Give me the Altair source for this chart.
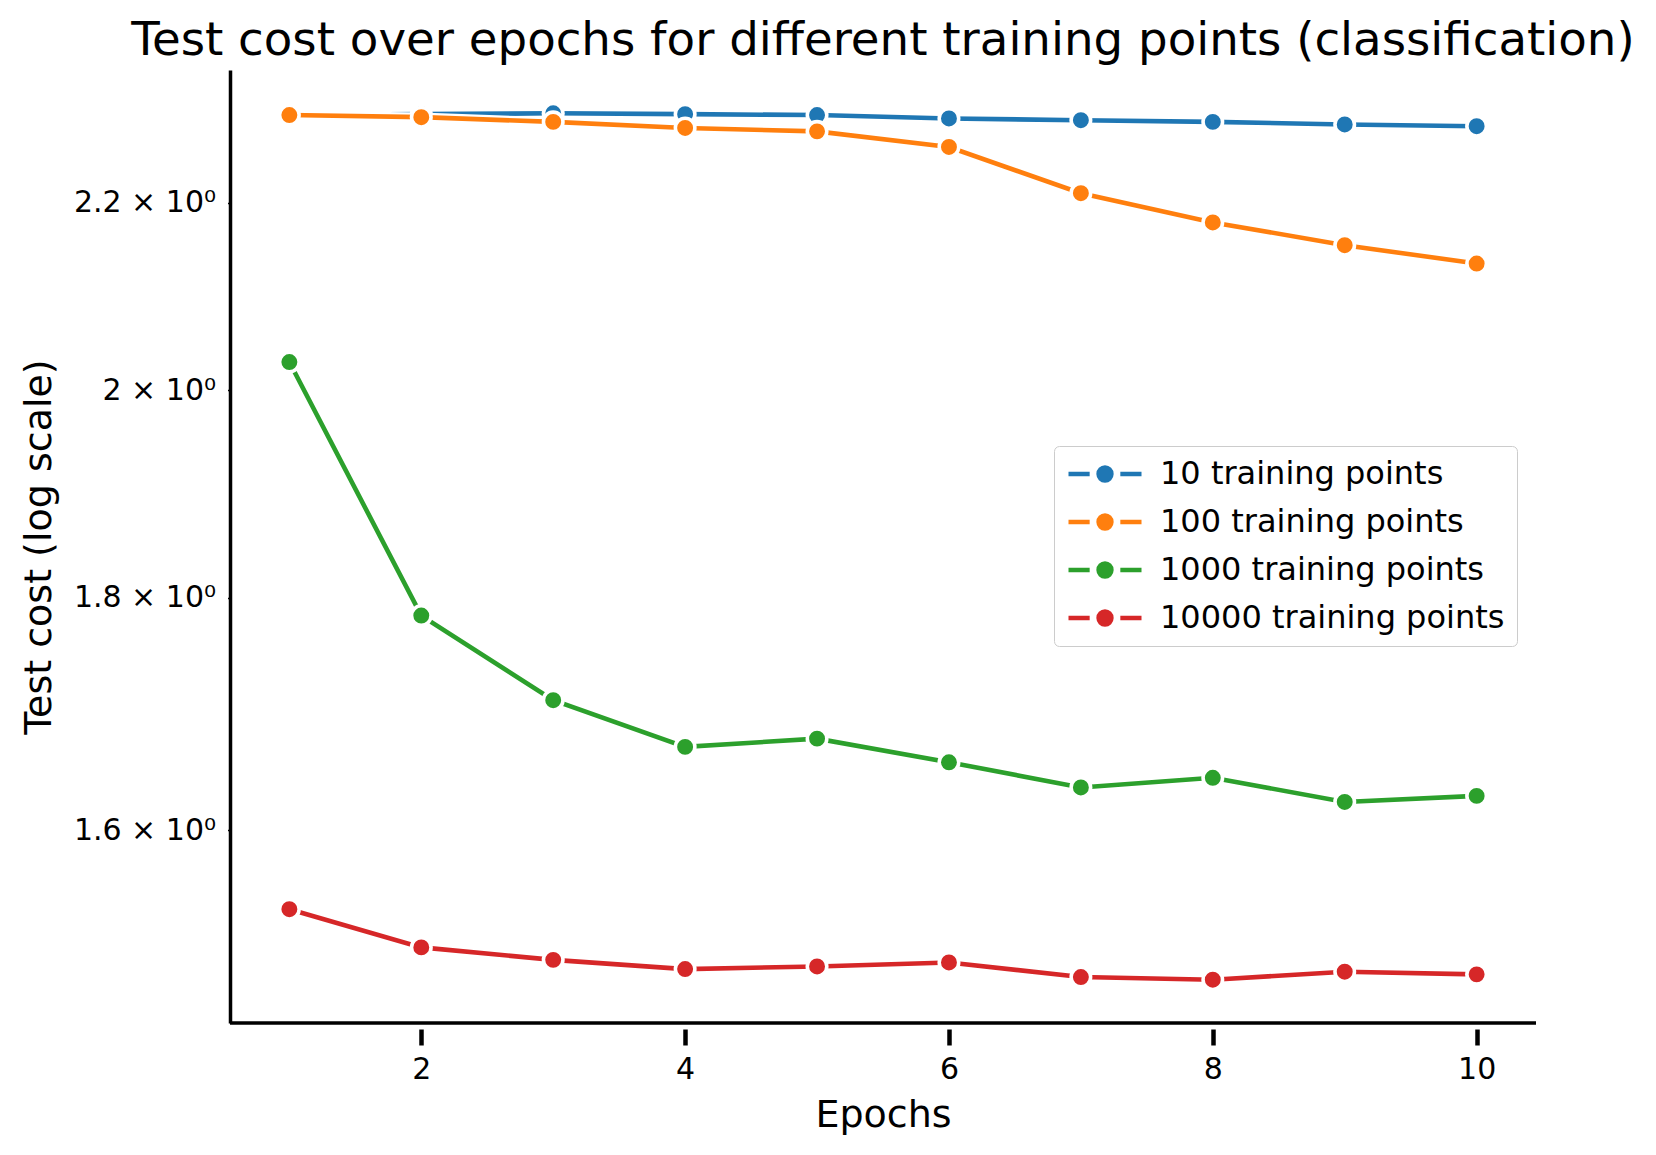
import math

import altair as alt
import pandas as pd

# ---- data -------------------------------------------------------------
epochs = [1, 2, 3, 4, 5, 6, 7, 8, 9, 10]
series_names = [
    "10 training points",
    "100 training points",
    "1000 training points",
    "10000 training points",
]
series_colors = ["#1f77b4", "#ff7f0e", "#2ca02c", "#d62728"]

cost_10 = [2.300, 2.301, 2.302, 2.301, 2.300, 2.296, 2.294, 2.292, 2.289, 2.287]
cost_100 = [2.300, 2.2975, 2.292, 2.285, 2.281, 2.263, 2.2105, 2.178, 2.153, 2.133]
cost_1000 = [2.029, 1.784, 1.709, 1.669, 1.676, 1.656, 1.635, 1.643, 1.623, 1.628]
cost_10000 = [1.537, 1.5075, 1.498, 1.491, 1.493, 1.496, 1.485, 1.483, 1.489, 1.487]

x_ticks = [2, 4, 6, 8, 10]
y_ticks = [1.6, 1.8, 2.0, 2.2]

title_text = "Test cost over epochs for different training points (classification)"

# ---- table ------------------------------------------------------------
all_costs = [cost_10, cost_100, cost_1000, cost_10000]
rows = []
for name, values in zip(series_names, all_costs):
    for e, c in zip(epochs, values):
        rows.append({"epoch": e, "cost": c, "series": name})
df = pd.DataFrame(rows)

# axis limits with 5% margins (log space for y)
x_lo, x_hi = min(epochs), max(epochs)
x_pad = 0.05 * (x_hi - x_lo)
x_domain = [x_lo - x_pad, x_hi + x_pad]

flat = [v for vals in all_costs for v in vals]
l_lo, l_hi = math.log(min(flat)), math.log(max(flat))
l_pad = 0.05 * (l_hi - l_lo)
y_domain = [math.exp(l_lo - l_pad), math.exp(l_hi + l_pad)]

# ---- layout -----------------------------------------------------------
W, H = 1306, 953
FONT = "DejaVu Sans"

x_axis = alt.Axis(
    values=x_ticks, format="d", domain=False, offset=6,
    tickSize=16, tickWidth=4.5, tickColor="black",
    labelFontSize=30, labelFont=FONT, labelColor="black", labelPadding=9,
    labelFlush=False, labelOverlap=False, grid=False,
    title="Epochs", titleFontSize=38, titleFont=FONT, titleFontWeight="normal",
    titleColor="black", titleBaseline="alphabetic", titleY=97,
)
y_axis = alt.Axis(
    values=y_ticks,
    labelExpr="replace(format(datum.value, '.1f'), '.0', '') + ' × 10⁰'",
    domainColor="black", domainWidth=3.5,
    tickSize=2.5, tickWidth=1.5, tickColor="black",
    labelFontSize=30, labelFont=FONT, labelColor="black", labelPadding=12,
    labelOverlap=False, grid=False,
    title="Test cost (log scale)", titleFontSize=38, titleFont=FONT,
    titleFontWeight="normal", titleColor="black", titleAngle=270,
    titleX=-180, titleY=H / 2, titleBaseline="alphabetic", titleAlign="center",
)

x_enc = alt.X("epoch:Q", scale=alt.Scale(domain=x_domain, nice=False, zero=False), axis=x_axis)
y_enc = alt.Y("cost:Q", scale=alt.Scale(type="log", domain=y_domain, nice=False), axis=y_axis)


def ring(r):
    return f"M{r},0A{r},{r} 0 1,1 {-r},0A{r},{r} 0 1,1 {r},0"


# legend glyph: line - marker - line
legend_symbol = "M-1,0L-0.42,0M0.42,0L1,0" + "".join(ring(r) for r in (0.176, 0.12, 0.065, 0.015))

color_enc = alt.Color(
    "series:N",
    scale=alt.Scale(domain=series_names, range=series_colors),
    legend=alt.Legend(
        orient="none", legendX=824, legendY=376, title=None,
        symbolType=legend_symbol, symbolSize=5329, symbolStrokeWidth=4.5,
        symbolOpacity=1, clipHeight=32,
        labelFontSize=32, labelFont=FONT, labelColor="black", labelOffset=16,
        labelLimit=0,
        padding=12, rowPadding=16,
        strokeColor="#cccccc", fillColor="white", cornerRadius=5,
    ),
)

spine_df = pd.DataFrame({"k": [0]})
bottom_spine = alt.Chart(spine_df).mark_rule(color="black", strokeWidth=3.5).encode(
    x=alt.value(0), x2=alt.value(W), y=alt.value(H)
)

layers = []
for name, color in zip(series_names, series_colors):
    base = alt.Chart(df).transform_filter(alt.datum.series == name)
    halo_line = base.mark_line(color="white", strokeWidth=9.2).encode(x=x_enc, y=y_enc)
    line = base.mark_line(strokeWidth=4.6).encode(x=x_enc, y=y_enc, color=color_enc)
    halo_pts = base.mark_circle(color="white", size=531, opacity=1).encode(x=x_enc, y=y_enc)
    pts = base.mark_circle(color=color, size=254, opacity=1).encode(x=x_enc, y=y_enc)
    layers += [halo_line, line, halo_pts, pts]

layers.append(bottom_spine)

chart = (
    alt.layer(*layers)
    .properties(
        width=W,
        height=H,
        title=alt.TitleParams(
            title_text, fontSize=46.7, font=FONT, fontWeight="normal", color="black",
            anchor="middle", frame="group", baseline="alphabetic", offset=-32,
        ),
        autosize=alt.AutoSizeParams(type="none"),
        padding={"left": 230, "top": 70, "right": 120, "bottom": 132},
        background="white",
    )
    .configure_view(stroke=None)
)

chart.save("out.html", embed_options={"renderer": "svg", "actions": False})
